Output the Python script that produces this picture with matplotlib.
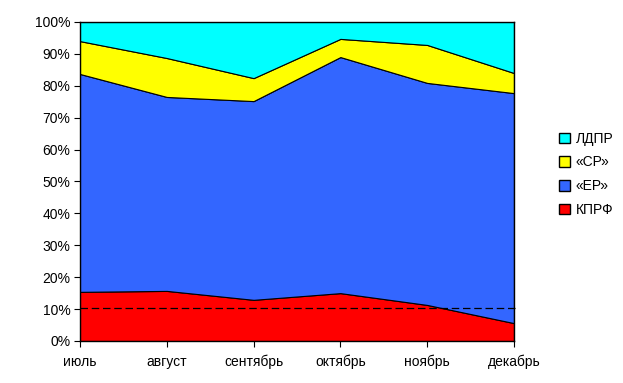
import matplotlib.pyplot as plt
from matplotlib.patches import Patch
import numpy as np

plt.rcParams['font.family'] = ['Liberation Sans', 'DejaVu Sans']

months = ["июль", "август", "сентябрь", "октябрь", "ноябрь", "декабрь"]
kprf = [15.4, 15.7, 12.9, 15.0, 11.3, 5.6]
er = [68.3, 60.8, 62.3, 74.0, 69.6, 72.1]
sr = [10.3, 12.2, 7.2, 5.7, 11.9, 6.3]
ldpr = [6.0, 11.3, 17.6, 5.3, 7.2, 16.0]
threshold = 10.3

names = ["КПРФ", "«ЕР»", "«СР»", "ЛДПР"]
colors = ["#FF0000", "#3366FF", "#FFFF00", "#00FFFF"]

fig = plt.figure(figsize=(6.23, 3.83), dpi=100)
ax = fig.add_axes([0.1284, 0.1097, 0.825 - 0.1284, 0.9426 - 0.1097])

x = np.arange(len(months))
ax.stackplot(x, kprf, er, sr, ldpr, colors=colors, edgecolor="black", linewidth=0.8)
ax.plot([x[0], x[-1] + 0.04], [threshold, threshold], color="black",
        linestyle=(0, (6, 3)), linewidth=0.9, clip_on=False)

ax.set_xlim(x[0], x[-1])
ax.set_ylim(0, 100)
ax.set_xticks(x)
ax.set_xticklabels(months)
ax.set_yticks(np.arange(0, 101, 10))
ax.set_yticklabels([f"{v}%" for v in range(0, 101, 10)])
ax.tick_params(axis="both", direction="out", length=4, width=0.8, labelsize=10, pad=3)
ax.tick_params(axis="x", pad=6)
for s in ax.spines.values():
    s.set_linewidth(1)

handles = [Patch(facecolor=c, edgecolor="black", label=n) for n, c in zip(names, colors)]
fig.legend(handles[::-1], names[::-1], loc="center left", bbox_to_anchor=(0.877, 0.545),
           frameon=False, fontsize=10, handlelength=0.8, handleheight=0.8,
           handletextpad=0.4, labelspacing=0.7)

fig.savefig("out.png", dpi=100)
